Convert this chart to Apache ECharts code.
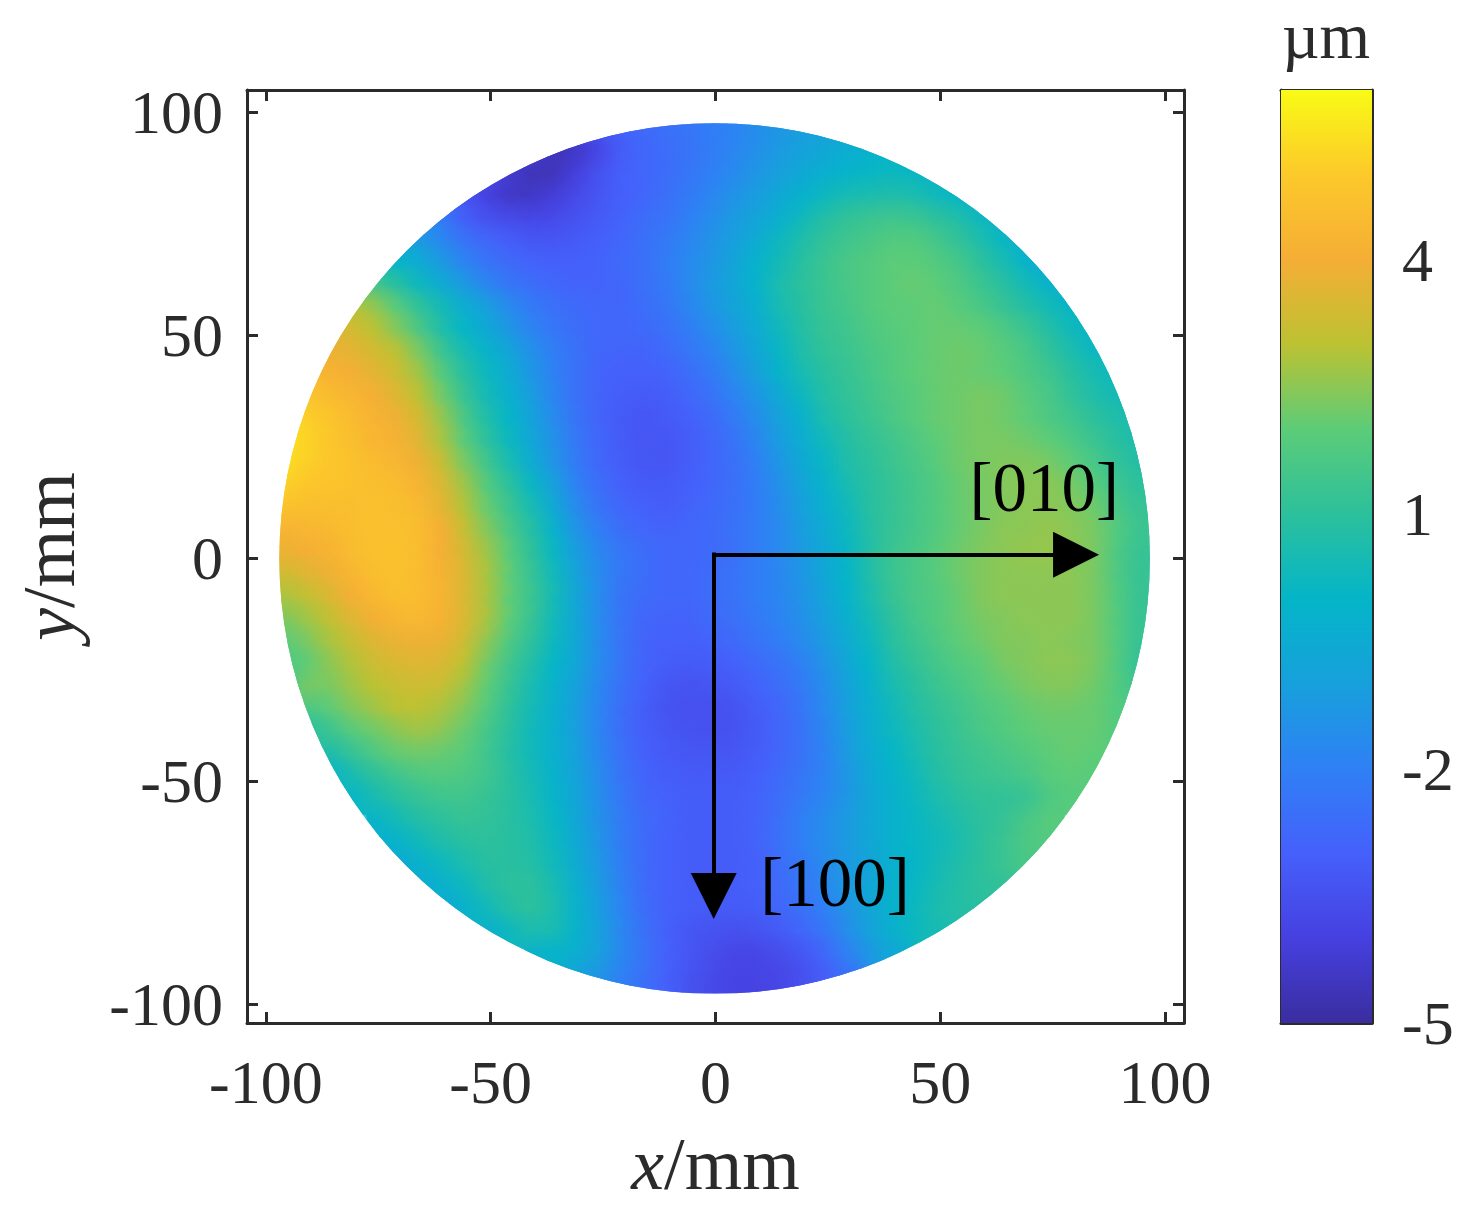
<!DOCTYPE html>
<html>
<head>
<meta charset="utf-8">
<style>html,body{margin:0;padding:0;background:#fff}#c{width:1473px;height:1214px}</style>
<script src="https://cdn.jsdelivr.net/npm/echarts@6/dist/echarts.min.js"></script>
</head>
<body>
<div id="c"></div>
<script>
// Height (um); rows go from y=95 to y=-95 in 5 mm steps,
// each row is centred on x=0 with 5 mm between values.
const rowY = [95,90,85,80,75,70,65,60,55,50,45,40,35,30,25,20,15,10,5,0,-5,-10,-15,-20,-25,-30,-35,-40,-45,-50,-55,-60,-65,-70,-75,-80,-85,-90,-95];
const heightRows = [
[-3.8,-3.3,-2.9,-2.7,-2.5,-2.3,-2.1,-1.9,-1.6,-1.3,-1.1,-.9,-.7],
[-4.2,-4.6,-4.4,-3.8,-3.1,-2.8,-2.6,-2.4,-2.1,-1.8,-1.5,-1.2,-.9,-.7,-.4,-.2,0],
[-3.7,-4.3,-4.6,-4.6,-4,-3.4,-3,-2.8,-2.6,-2.3,-2,-1.7,-1.3,-1,-.6,-.3,-.1,.1,.2,.1,-.1],
[-2.6,-3.4,-4,-4.4,-4.4,-4.1,-3.7,-3.3,-3,-2.8,-2.5,-2.2,-1.8,-1.4,-1.1,-.6,-.2,.2,.5,.6,.7,.6,.3,0,-.4],
[-1.6,-2.2,-3.1,-3.5,-3.7,-3.8,-3.7,-3.4,-3.2,-2.9,-2.6,-2.4,-2,-1.6,-1.2,-.8,-.3,.3,.8,1.1,1.3,1.4,1.3,1,.7,.2,-.3],
[-.6,-1.2,-1.8,-2.4,-2.8,-3.1,-3.3,-3.3,-3.2,-3,-2.8,-2.5,-2.2,-1.8,-1.4,-1,-.5,.2,.7,1.1,1.4,1.6,1.8,1.8,1.5,1.1,.6,.1,-.5],
[.4,0,-.5,-1.2,-1.9,-2.4,-2.7,-2.9,-3,-3,-2.9,-2.7,-2.5,-2.1,-1.7,-1.3,-.8,-.1,.4,.9,1.3,1.6,1.8,2,2,1.8,1.5,1,.5,-.1,-.6],
[2,1.5,.9,.2,-.5,-1.2,-1.8,-2.3,-2.6,-2.8,-2.9,-2.9,-2.8,-2.5,-2.2,-1.7,-1.2,-.7,-.1,.6,1,1.3,1.6,1.8,2,2.1,2,1.7,1.3,.9,.4,-.1,-.4],
[3,2.6,1.9,1.1,.4,-.4,-1,-1.7,-2.2,-2.5,-2.7,-2.8,-2.8,-2.6,-2.3,-1.8,-1.3,-.8,-.3,.5,.9,1.3,1.5,1.8,2,2,2.1,1.9,1.6,1.2,.8,.4,0],
[3.6,3.4,3,2.4,1.6,.7,0,-.6,-1.3,-1.9,-2.3,-2.6,-2.8,-2.8,-2.7,-2.5,-2.1,-1.6,-1.1,-.5,.3,.8,1.2,1.4,1.7,1.9,2,2.1,2.1,2,1.7,1.3,.8,.3,-.1],
[3.9,3.7,3.4,3,2.3,1.3,.5,-.1,-.8,-1.5,-2.1,-2.5,-2.8,-2.9,-2.9,-2.7,-2.3,-1.9,-1.3,-.7,.1,.7,1.1,1.3,1.6,1.8,2,2.1,2.2,2.1,1.9,1.6,1.1,.6,.2],
[4.4,4.2,4,3.7,3.3,2.7,1.8,.9,.2,-.5,-1.3,-2,-2.5,-2.9,-3,-3,-2.9,-2.6,-2.2,-1.6,-1,-.1,.5,.9,1.2,1.5,1.8,2,2.1,2.2,2.1,2,1.7,1.4,.9,.5,.2],
[4.8,4.5,4.3,4,3.6,3,2.2,1.2,.4,-.3,-1.1,-1.9,-2.5,-2.9,-3.1,-3.2,-3.1,-2.8,-2.4,-1.9,-1.3,-.6,.2,.8,1.1,1.4,1.7,1.9,2.1,2.2,2.3,2.2,1.9,1.6,1.1,.7,.4],
[5.3,5.1,4.8,4.5,4.2,3.9,3.4,2.6,1.6,.7,0,-.9,-1.7,-2.4,-2.9,-3.2,-3.3,-3.2,-3,-2.7,-2.2,-1.6,-.9,-.2,.6,1,1.3,1.6,1.9,2.1,2.2,2.3,2.2,2,1.7,1.4,1,.7,.5],
[5.5,5.2,4.9,4.6,4.3,4.1,3.6,2.8,1.9,1,.2,-.7,-1.5,-2.3,-2.8,-3.2,-3.3,-3.3,-3.1,-2.8,-2.4,-1.8,-1.1,-.4,.3,.8,1.1,1.4,1.7,2,2.2,2.3,2.3,2.2,2,1.7,1.3,.9,.6],
[5.4,5.1,4.9,4.7,4.5,4.3,3.9,3.2,2.3,1.4,.5,-.5,-1.4,-2.2,-2.8,-3.1,-3.3,-3.3,-3.1,-2.8,-2.5,-2,-1.3,-.6,.1,.7,1,1.3,1.6,1.9,2.2,2.3,2.4,2.4,2.3,2,1.6,1.1,.8],
[5.1,4.9,4.8,4.7,4.6,4.5,4.2,3.5,2.7,1.8,1,.1,-1,-2,-2.6,-3,-3.2,-3.2,-3,-2.8,-2.5,-2.1,-1.5,-.8,-.1,.5,.9,1.2,1.5,1.8,2.1,2.3,2.4,2.5,2.5,2.3,1.9,1.4,1],
[4.7,4.6,4.6,4.6,4.7,4.6,4.4,3.7,2.9,2.1,1.3,.5,-.6,-1.7,-2.4,-2.8,-3,-3.1,-2.9,-2.7,-2.5,-2.1,-1.6,-1,-.3,.3,.9,1.2,1.5,1.8,2.1,2.3,2.4,2.5,2.5,2.4,2.2,1.6,1.2],
[4.2,4.3,4.4,4.6,4.7,4.7,4.5,4,3.2,2.4,1.6,.8,-.2,-1.4,-2.1,-2.6,-2.8,-2.9,-2.8,-2.7,-2.4,-2.1,-1.7,-1.1,-.5,.2,.8,1.2,1.5,1.8,2.1,2.3,2.5,2.5,2.6,2.5,2.3,1.8,1.3],
[3.8,4,4.2,4.5,4.7,4.7,4.5,4,3.4,2.7,1.9,1,.1,-1.1,-1.8,-2.3,-2.6,-2.8,-2.8,-2.7,-2.5,-2.1,-1.7,-1.2,-.6,.1,.8,1.3,1.6,1.9,2.2,2.4,2.5,2.6,2.6,2.5,2.3,1.7,1.2],
[3.3,3.6,3.9,4.3,4.6,4.7,4.5,4.1,3.5,2.8,2,1.2,.3,-.9,-1.7,-2.3,-2.6,-2.8,-2.8,-2.6,-2.4,-2.1,-1.8,-1.3,-.7,0,.7,1.3,1.6,1.9,2.2,2.4,2.5,2.5,2.5,2.5,2.3,1.7,1.2],
[2.8,3.1,3.5,4,4.4,4.6,4.5,4.2,3.5,2.8,2,1.3,.4,-.8,-1.7,-2.4,-2.7,-2.8,-2.8,-2.6,-2.4,-2.1,-1.8,-1.4,-.8,-.1,.6,1.2,1.6,1.8,2.1,2.4,2.5,2.5,2.5,2.5,2.3,1.8,1.2],
[2.3,2.7,3.1,3.6,4,4.3,4.4,4.1,3.5,2.8,2,1.2,.3,-.7,-1.7,-2.4,-2.8,-2.9,-2.9,-2.7,-2.5,-2.2,-1.9,-1.5,-1,-.3,.4,1,1.5,1.8,2.1,2.3,2.4,2.5,2.5,2.5,2.3,1.8,1.2],
[1.9,2.3,2.8,3.2,3.6,3.8,3.9,3.8,3.3,2.5,1.7,1,.2,-.7,-1.7,-2.4,-2.9,-3,-3,-2.9,-2.7,-2.4,-2.1,-1.7,-1.2,-.5,.2,.9,1.3,1.7,2,2.2,2.4,2.4,2.5,2.4,2.3,1.8,1.2],
[1.7,2,2.5,2.9,3.3,3.5,3.6,3.5,3,2.2,1.4,.7,0,-.8,-1.7,-2.4,-2.9,-3.1,-3.2,-3.1,-3,-2.7,-2.4,-2,-1.4,-.7,0,.7,1.1,1.5,1.8,2,2.3,2.4,2.5,2.5,2.3,1.8,1.1],
[1.5,2.3,2.3,2.7,3,3.2,3.3,3.2,2.7,2,1.2,.5,-.2,-1,-1.8,-2.5,-3,-3.3,-3.4,-3.3,-3.2,-2.9,-2.6,-2.2,-1.6,-.9,-.2,.5,.9,1.3,1.6,1.9,2.1,2.3,2.4,2.4,2.2,1.8,1.3],
[1.6,2,2.4,2.7,3,3,2.8,2.4,1.8,1,.4,-.3,-1.1,-1.9,-2.6,-3.1,-3.4,-3.5,-3.5,-3.4,-3.1,-2.8,-2.3,-1.7,-1,-.3,.3,.8,1.1,1.4,1.7,1.9,2.1,2.2,2.2,2.1,1.8],
[.8,1.3,1.9,2.2,2.5,2.7,2.5,2.1,1.5,.9,.3,-.3,-1.1,-1.9,-2.6,-3.1,-3.3,-3.4,-3.5,-3.4,-3.2,-2.8,-2.4,-1.8,-1.1,-.4,.2,.6,1,1.3,1.6,1.8,2,2.1,2.1,2.1,1.8],
[.6,1.2,1.7,2.1,2.2,2.1,1.9,1.4,.8,.3,-.3,-1,-1.8,-2.5,-3,-3.2,-3.3,-3.3,-3.3,-3.1,-2.8,-2.4,-1.9,-1.2,-.5,0,.5,.9,1.2,1.4,1.6,1.8,2,2.1,2],
[-.1,.5,1,1.4,1.7,1.8,1.7,1.4,.9,.4,-.2,-.9,-1.7,-2.4,-2.9,-3.1,-3.2,-3.2,-3.2,-3,-2.7,-2.3,-1.9,-1.3,-.6,-.1,.3,.8,1.1,1.3,1.4,1.6,1.9,2,1.9],
[0,.5,.9,1.2,1.4,1.4,1.2,.9,.5,-.1,-.8,-1.6,-2.3,-2.8,-3,-3.1,-3.1,-3.1,-2.9,-2.6,-2.2,-1.8,-1.3,-.7,-.2,.2,.6,.9,1.1,1.1,1.2,1.7,1.9],
[-.1,.4,.8,1,1.2,1.1,.9,.6,.1,-.7,-1.5,-2.2,-2.7,-2.9,-3.1,-3.1,-3.1,-2.9,-2.5,-2,-1.6,-1.2,-.7,-.2,.1,.4,.7,1,1.2,1.6,1.9],
[-.4,-.1,.3,.7,.9,1,.9,.7,.2,-.6,-1.4,-2.2,-2.7,-3,-3.1,-3.1,-3.1,-2.9,-2.5,-2,-1.6,-1.2,-.7,-.2,.1,.3,.6,1,1.3,1.7,1.8],
[-.6,-.2,.2,.6,.9,.9,.8,.3,-.5,-1.3,-2.1,-2.7,-3,-3.1,-3.2,-3.1,-3,-2.6,-2.2,-1.7,-1.2,-.8,-.3,0,.4,.7,1,1.3,1.6],
[-.6,-.2,.2,.7,1,1,.5,-.3,-1.2,-2,-2.7,-3,-3.1,-3.1,-3.1,-3,-2.7,-2.3,-1.8,-1.2,-.7,-.2,.1,.5,.8,1,1.1],
[-.6,-.2,.3,.8,1,.6,-.2,-1.1,-1.9,-2.6,-3,-3.1,-3.2,-3.2,-3.1,-2.8,-2.5,-2,-1.4,-.8,-.1,.2,.6,.8,.9],
[-.3,.2,.6,.5,-.2,-1,-1.8,-2.5,-3,-3.3,-3.4,-3.5,-3.4,-3.2,-2.8,-2.3,-1.6,-.9,-.3,.2,.5],
[-.3,-.1,-.4,-1,-1.8,-2.4,-3,-3.3,-3.6,-3.8,-3.8,-3.6,-3.3,-2.8,-2,-1.3,-.6],
[-.9,-1.4,-2,-2.5,-3,-3.4,-3.7,-3.9,-3.9,-3.8,-3.5,-3.1,-2.5]
];
const cellStep = [5];
const waferRadius = [97.2];
const waferCentre = [-0.2,-0.15];
const xTicks = [-100,-50,0,50,100];
const yTicks = [-100,-50,0,50,100];
const barTicks = [-5,-2,1,4];
const barRange = [-5,6];
const parula = ['#3a2d9f','#4640e0','#4560fb','#2f80f5','#17a0dc','#04b5c8','#2cc09c','#5ccc78','#bcc232','#f5ae35','#fcc92a','#f9fb15'];
const arrowX = [[-0.4,0.7],[80.2,0.7]];
const arrowY = [[-0.4,1.2],[-0.4,-75.8]];
const crystalLabels = [['[010]',73.1,14.5],['[100]',26.6,-74.1]];

const cells = [];
heightRows.forEach(function(row,r){
  row.forEach(function(v,i){ cells.push([(i-(row.length-1)/2)*cellStep[0], rowY[r], v]); });
});

const serif = '"Liberation Serif","Times New Roman",serif';
const ink = '#2b2b2b';
const XMIN=-104.2, XMAX=104.2, YMIN=-104.3, YMAX=104.9;

function waferClip(api){
  const c = api.coord(waferCentre);
  const s = api.size([waferRadius[0],waferRadius[0]]);
  return {type:'circle', shape:{cx:c[0], cy:c[1], r:(s[0]+s[1])/2}};
}
function flatCell(params,api){
  const c = api.coord([api.value(0),api.value(1)]);
  const s = api.size([cellStep[0],cellStep[0]]);
  return {type:'rect', clipPath:waferClip(api), shape:{x:c[0]-s[0]/2-0.5,y:c[1]-s[1]/2-0.5,width:s[0]+1,height:s[1]+1},
    style:{fill:api.visual('color')}};
}
function softCell(params,api){
  const c = api.coord([api.value(0),api.value(1)]);
  const s = api.size([cellStep[0],cellStep[0]]);
  const col = api.visual('color');
  const k = 1.35;
  return {type:'rect', clipPath:waferClip(api), shape:{x:c[0]-k*s[0],y:c[1]-k*s[1],width:2*k*s[0],height:2*k*s[1]},
    style:{fill:{type:'radial',x:0.5,y:0.5,r:0.5,colorStops:[
      {offset:0,color:col},{offset:1,color:echarts.color.modifyAlpha(col,0)}]}}};
}
function axisBase(extra){
  return Object.assign({type:'value',splitLine:{show:false},
    axisLine:{show:true,onZero:false,lineStyle:{color:ink,width:3}}},extra);
}
function ticks(values,len){return {show:true,inside:true,length:len,lineStyle:{color:ink,width:3},customValues:values};}
const labelStyle = {color:ink,fontFamily:serif,fontSize:62};
const nameRich = {i:{fontFamily:serif,fontStyle:'italic',fontSize:74,color:ink},n:{fontFamily:serif,fontSize:74,color:ink}};
const shiftedRich = {v:{color:ink,fontFamily:serif,fontSize:62,padding:[10,0,0,0]}};

const chart = echarts.init(document.getElementById('c'),null,{renderer:'canvas'});
chart.setOption({
  animation:false,
  backgroundColor:'#fff',
  grid:[
    {left:247,top:90,width:937,height:933,outerBoundsMode:'none'},
    {left:1281,top:90,width:91,height:933,outerBoundsMode:'none'}
  ],
  xAxis:[
    axisBase({gridIndex:0,position:'bottom',min:XMIN,max:XMAX,axisTick:ticks(xTicks,11),
      axisLabel:Object.assign({},labelStyle,{customValues:xTicks,margin:33}),
      name:'{i|x}{n|/mm}',nameLocation:'middle',nameGap:110,nameTextStyle:{rich:nameRich}}),
    axisBase({gridIndex:0,position:'top',min:XMIN,max:XMAX,axisTick:ticks(xTicks,11),axisLabel:{show:false}}),
    axisBase({gridIndex:1,position:'bottom',min:0,max:1,axisTick:{show:false},axisLabel:{show:false}}),
    axisBase({gridIndex:1,position:'top',min:0,max:1,axisTick:{show:false},axisLabel:{show:false}})
  ],
  yAxis:[
    axisBase({gridIndex:0,position:'left',min:YMIN,max:YMAX,axisTick:ticks(yTicks,11),
      axisLabel:Object.assign({},labelStyle,{customValues:yTicks,margin:24,formatter:'{v|{value}}',rich:shiftedRich}),
      name:'{i|y}{n|/mm}',nameLocation:'middle',nameGap:155,nameRotate:90,nameTextStyle:{rich:nameRich}}),
    axisBase({gridIndex:0,position:'right',min:YMIN,max:YMAX,axisTick:ticks(yTicks,11),axisLabel:{show:false}}),
    axisBase({gridIndex:1,position:'left',min:barRange[0],max:barRange[1],axisTick:{show:false},axisLabel:{show:false}}),
    axisBase({gridIndex:1,position:'right',min:barRange[0],max:barRange[1],axisTick:ticks(barTicks,11),
      axisLabel:Object.assign({},labelStyle,{customValues:barTicks,margin:30,formatter:'{v|{value}}',rich:shiftedRich})})
  ],
  visualMap:{show:false,type:'continuous',min:barRange[0],max:barRange[1],dimension:2,seriesIndex:[0,1],inRange:{color:parula}},
  series:[
    {type:'custom',name:'height',coordinateSystem:'cartesian2d',xAxisIndex:0,yAxisIndex:0,data:cells,renderItem:flatCell,encode:{x:0,y:1},silent:true,z:1},
    {type:'custom',name:'height',coordinateSystem:'cartesian2d',xAxisIndex:0,yAxisIndex:0,data:cells,renderItem:softCell,encode:{x:0,y:1},silent:true,z:1},
    {type:'custom',name:'colorbar',coordinateSystem:'cartesian2d',xAxisIndex:2,yAxisIndex:2,data:[[0,barRange[1]]],silent:true,z:1,
      renderItem:function(p,api){
        const a=api.coord([0,barRange[1]]), b=api.coord([1,barRange[0]]);
        return {type:'rect',shape:{x:a[0],y:a[1],width:b[0]-a[0],height:b[1]-a[1]},
          style:{fill:{type:'linear',x:0,y:1,x2:0,y2:0,colorStops:parula.map(function(c,i){return {offset:i/(parula.length-1),color:c};})}}};
      }},
    {type:'line',xAxisIndex:0,yAxisIndex:0,data:[],silent:true,z:5,
      markLine:{silent:true,animation:false,symbol:['none','triangle'],symbolSize:46,precision:4,label:{show:false},
        lineStyle:{color:'#000',width:4,type:'solid'},emphasis:{disabled:true},
        data:[
          [{coord:arrowX[0]},{coord:arrowX[1]}],
          [{coord:arrowY[0]},{coord:arrowY[1]}]
        ]}},
    {type:'custom',name:'labels',coordinateSystem:'cartesian2d',xAxisIndex:0,yAxisIndex:0,data:crystalLabels.map(function(d){return [d[1],d[2],d[0]];}),silent:true,z:6,
      dimensions:['x','y','t'],encode:{x:0,y:1},
      renderItem:function(p,api){
        const c=api.coord([api.value(0),api.value(1)]);
        return {type:'text',x:c[0],y:c[1],style:{text:crystalLabels[p.dataIndex][0],fill:'#000',font:'69px '+serif,align:'center',verticalAlign:'middle'}};
      }}
  ],
  graphic:[{type:'text',left:1282,top:8,style:{text:'µm',fill:ink,font:'65px '+serif}}]
});
</script>
</body>
</html>
